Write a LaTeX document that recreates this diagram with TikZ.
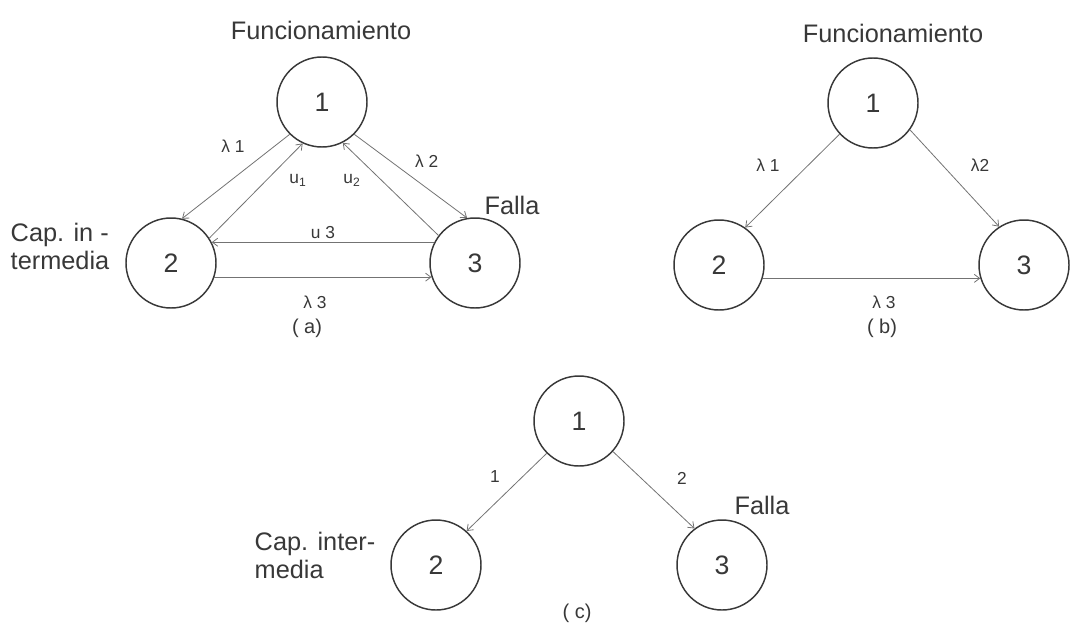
\documentclass[tikz,border=0pt]{standalone}
\usepackage{fontspec}
\setmainfont{Liberation Sans}
\usetikzlibrary{positioning,arrows.meta}
\definecolor{ink}{gray}{0.22}
\definecolor{wire}{gray}{0.45}

\begin{document}
\begin{tikzpicture}[
        x=0.75pt, y=-0.75pt,
        >={Straight Barb[length=4pt,width=6pt]},
        state/.style={
            circle, line width=1.1pt, draw = ink, color = ink, minimum size=67.5pt, inner sep=0pt,
            font = \fontsize{20}{22}\selectfont
        },
        note/.style={
            color = ink, font = \fontsize{19}{21}\selectfont
        },
        rate/.style={
            color = ink, font = \fontsize{13}{15}\selectfont
        },
        trans/.style={
            ->, draw = wire, line width=0.6pt
        },
    ]
    \useasboundingbox (0,0) rectangle (1070,625);

    % (a) three states with repair
    \node (a1) [state] at (322,102) {1};
    \node (a2) [state] at (171,263) {2};
    \node (a3) [state] at (475,263) {3};
    \node (aTop) [note] at (321,30) {Funcionamiento};
    \node (aSide) [note,align=left,anchor=west] at (6,246) {Cap. in -\\termedia};
    \node (aFail) [note] at (512,205) {Falla};

    \path (a1.225) edge[trans] node[rate,pos=0.3,above left=2pt and 6pt] {λ 1} (a2.76);
    \path (a2.33) edge[trans] (a1.245);
    \path (a1.315) edge[trans] node[rate,pos=0.45,above right=0pt and 4pt] {λ 2} (a3.100);
    \path (a3.143) edge[trans] (a1.297);
    \node (aU1) [rate] at (298,180) {u\textsubscript{1}};
    \node (aU2) [rate] at (352,180) {u\textsubscript{2}};
    \path (a3.153) edge[trans] node[rate,above=-1pt] {u 3} (a2.27);
    \path (a2.-18) edge[trans] (a3.198);
    \node (aL3) [rate] at (315,302) {λ 3};
    \node (aCap) [rate,font=\fontsize{15}{17}\selectfont] at (307,328) {( a)};

    % (b) without repair
    \node (b1) [state] at (873,103) {1};
    \node (b2) [state] at (719,265) {2};
    \node (b3) [state] at (1024,265) {3};
    \node (bTop) [note] at (893,33) {Funcionamiento};

    \path (b1.223) edge[trans] (b2.55);
    \node (bL1) [rate] at (768,165) {λ 1};
    \path (b1.-36) edge[trans] (b3.123);
    \node (bL2) [rate] at (980,165) {λ2};
    \path (b2.-17) edge[trans] (b3.197);
    \node (bL3) [rate] at (884,302) {λ 3};
    \node (bCap) [rate,font=\fontsize{15}{17}\selectfont] at (882,328) {( b)};

    % (c) two branches only
    \node (c1) [state] at (579,421) {1};
    \node (c2) [state] at (436,565) {2};
    \node (c3) [state] at (722,565) {3};
    \node (cSide) [note,align=left,anchor=west] at (250,555) {Cap. inter-\\media};
    \node (cFail) [note] at (762,505) {Falla};

    \path (c1.225) edge[trans] (c2.48);
    \node (cL1) [rate] at (495,477) {1};
    \path (c1.-42) edge[trans] (c3.127);
    \node (cL2) [rate] at (682,478) {2};
    \node (cCap) [rate,font=\fontsize{15}{17}\selectfont] at (577,613) {( c)};

    \end{tikzpicture}
\end{document}
